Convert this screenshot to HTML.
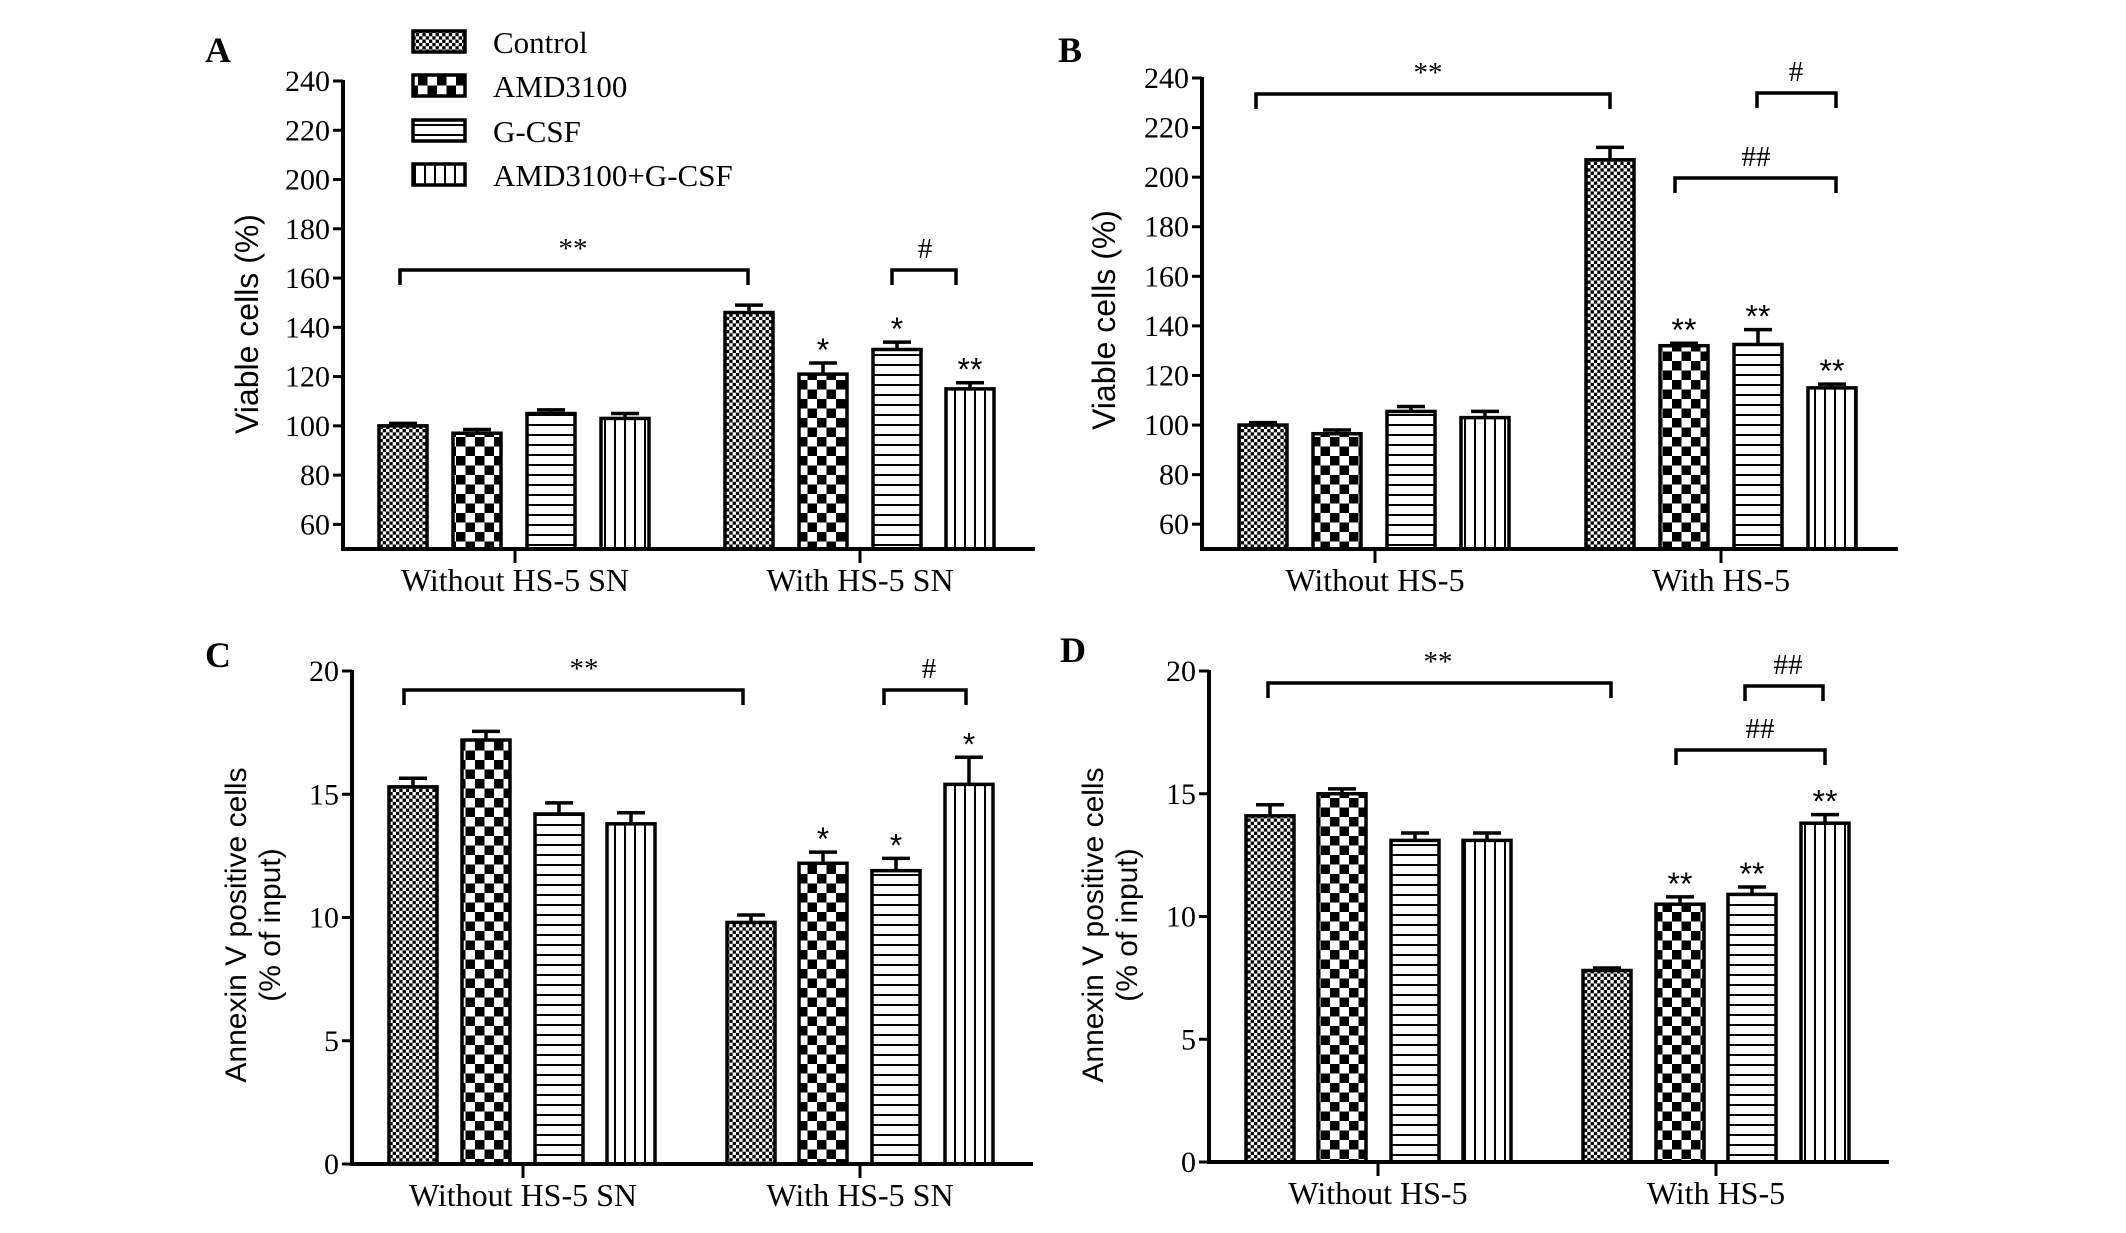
<!DOCTYPE html>
<html><head><meta charset="utf-8"><style>
html,body{margin:0;padding:0;background:#fff;}
svg{display:block;}
text{font-family:"Liberation Serif",serif;fill:#000;}
.sans{font-family:"Liberation Sans",sans-serif;}
</style></head><body>
<svg id="fig" width="2126" height="1233" viewBox="0 0 2126 1233" xmlns="http://www.w3.org/2000/svg">
<defs>
<pattern id="pCtrl" width="6.6" height="6.6" patternUnits="userSpaceOnUse"><rect width="6.6" height="6.6" fill="#fff"/><rect width="3.3" height="3.3" fill="#000"/><rect x="3.3" y="3.3" width="3.3" height="3.3" fill="#000"/></pattern>
<pattern id="pAmd" width="19" height="19" patternUnits="userSpaceOnUse"><rect width="19" height="19" fill="#fff"/><rect width="9.5" height="9.5" fill="#000"/><rect x="9.5" y="9.5" width="9.5" height="9.5" fill="#000"/></pattern>
<pattern id="pG" width="10" height="10" patternUnits="userSpaceOnUse"><rect width="10" height="10" fill="#fff"/><rect y="4" width="10" height="2" fill="#000"/></pattern>
<pattern id="pAG" width="10" height="10" patternUnits="userSpaceOnUse"><rect width="10" height="10" fill="#fff"/><rect x="4" width="2" height="10" fill="#000"/></pattern>
</defs>
<g id="legend">
<g><rect x="413" y="31" width="52" height="21" fill="url(#pCtrl)" stroke="#000" stroke-width="3.5"/><text x="493" y="53" font-size="31">Control</text></g>
<g><rect x="413" y="75" width="52" height="21" fill="url(#pAmd)" stroke="#000" stroke-width="3.5"/><text x="493" y="97" font-size="31">AMD3100</text></g>
<g><rect x="413" y="120" width="52" height="21" fill="url(#pG)" stroke="#000" stroke-width="3.5"/><text x="493" y="142" font-size="31">G-CSF</text></g>
<g><rect x="413" y="164" width="52" height="21" fill="url(#pAG)" stroke="#000" stroke-width="3.5"/><text x="493" y="186" font-size="31">AMD3100+G-CSF</text></g>
</g>
</svg>
<script>
// Panel A data
const aValues = [100, 97, 105, 103, 146, 121, 131, 115];
const aErrors = [1, 1.5, 1.5, 2, 3, 4.5, 3, 2.5];
const aStars = ["", "", "", "", "", "*", "*", "**"];
const aTicks = [60, 80, 100, 120, 140, 160, 180, 200, 220, 240];
const aGroups = ["Without HS-5 SN", "With HS-5 SN"];
// Panel B data
const bValues = [100, 96.5, 105.5, 103, 207, 132, 132.5, 115];
const bErrors = [1, 1.5, 2, 2.5, 5, 1, 6, 1.5];
const bStars = ["", "", "", "", "", "**", "**", "**"];
const bTicks = [60, 80, 100, 120, 140, 160, 180, 200, 220, 240];
const bGroups = ["Without HS-5", "With HS-5"];
// Panel C data
const cValues = [15.3, 17.2, 14.2, 13.8, 9.8, 12.2, 11.9, 15.4];
const cErrors = [0.35, 0.35, 0.45, 0.45, 0.3, 0.45, 0.5, 1.1];
const cStars = ["", "", "", "", "", "*", "*", "*"];
const cTicks = [0, 5, 10, 15, 20];
const cGroups = ["Without HS-5 SN", "With HS-5 SN"];
// Panel D data
const dValues = [14.1, 15.0, 13.1, 13.1, 7.8, 10.5, 10.9, 13.8];
const dErrors = [0.45, 0.2, 0.3, 0.3, 0.1, 0.3, 0.3, 0.35];
const dStars = ["", "", "", "", "", "**", "**", "**"];
const dTicks = [0, 5, 10, 15, 20];
const dGroups = ["Without HS-5", "With HS-5"];

const NS = "http://www.w3.org/2000/svg";
const svg = document.getElementById("fig");
const fills = ["url(#pCtrl)", "url(#pAmd)", "url(#pG)", "url(#pAG)"];
function mk(tag, attrs, parent) {
  const e = document.createElementNS(NS, tag);
  for (const k in attrs) e.setAttribute(k, attrs[k]);
  parent.appendChild(e);
  return e;
}
function panel(P, values, errors, stars, ticks, groups, brackets) {
  const g = mk("g", {}, svg);
  
  
  const y = v => P.y0 + (v - P.vmin) / (P.vmax - P.vmin) * (P.y1 - P.y0);
  const lbl = mk("text", {x: P.lx, y: P.ly, "font-size": 36, "font-weight": "bold"}, g);
  lbl.textContent = P.id;
  
  
  values.forEach((v, i) => {
    const cx = P.centers[i];
    const top = y(v), et = y(v + errors[i]);
    const bg = mk("g", {}, g);
    
    
    mk("line", {x1: cx, x2: cx, y1: top, y2: et, stroke: "#000", "stroke-width": 3.5}, bg);
    mk("line", {x1: cx - 14, x2: cx + 14, y1: et, y2: et, stroke: "#000", "stroke-width": 3.5}, bg);
    mk("rect", {x: cx - 24, y: top, width: 48, height: P.y0 - top, fill: fills[i % 4], stroke: "#000", "stroke-width": 3.5}, bg);
    if (stars[i]) {
      const s = mk("text", {x: cx, y: et - 2, "font-size": 32, "text-anchor": "middle", class: "sans"}, g);
      s.textContent = stars[i];
      
      
    }
  });
  const ax = mk("g", {}, g);
  
  
  mk("line", {x1: P.ax, x2: P.ax, y1: y(P.vmax) - 1, y2: P.y0 + 2, stroke: "#000", "stroke-width": 4}, ax);
  mk("line", {x1: P.ax - 2, x2: P.axEnd, y1: P.y0, y2: P.y0, stroke: "#000", "stroke-width": 4}, ax);
  ticks.forEach(t => {
    mk("line", {x1: P.ax - 10, x2: P.ax, y1: y(t), y2: y(t), stroke: "#000", "stroke-width": 3}, ax);
    const tl = mk("text", {x: P.ax - 13, y: y(t) + 10, "font-size": 30, "text-anchor": "end"}, ax);
    tl.textContent = t;
    
    
  });
  groups.forEach((gname, k) => {
    const gx = P.gticks[k];
    mk("line", {x1: gx, x2: gx, y1: P.y0, y2: P.y0 + 14, stroke: "#000", "stroke-width": 3}, ax);
    const xl = mk("text", {x: gx, y: P.y0 + 42, "font-size": 32, "text-anchor": "middle"}, ax);
    xl.textContent = gname;
    
    
  });
  const yt = mk("text", {x: 0, y: 0, "font-size": P.tfs, "text-anchor": "middle", class: "sans", transform: `translate(${P.tx},${P.ty}) rotate(-90)`}, g);
  
  
  if (P.title2) {
    const t1 = mk("tspan", {x: 0, dy: 0}, yt); t1.textContent = P.title;
    const t2 = mk("tspan", {x: 0, dy: 34}, yt); t2.textContent = P.title2;
  } else yt.textContent = P.title;
  brackets.forEach(b => {
    const bb = mk("g", {}, g);
    
    
    mk("path", {d: `M${b[0]},${b[2] + 15} V${b[2]} H${b[1]} V${b[2] + 15}`, fill: "none", stroke: "#000", "stroke-width": 3.5}, bb);
    const t = mk("text", {x: b[4], y: b[2] - 12, "font-size": 29, "text-anchor": "middle"}, bb);
    t.textContent = b[3];
  });
}
panel({id: "A", lx: 205, ly: 62, ax: 343, axEnd: 1035, y0: 549, y1: 81, vmin: 50, vmax: 240,
  centers: [403, 477, 551, 625, 749, 823, 897, 970], gticks: [515, 860],
  tx: 258, ty: 324, tfs: 32, title: "Viable cells (%)"},
  aValues, aErrors, aStars, aTicks, aGroups,
  [[400, 748, 270, "**", 573], [892, 956, 270, "#", 925]]);
panel({id: "B", lx: 1058, ly: 62, ax: 1202, axEnd: 1898, y0: 549, y1: 78, vmin: 50, vmax: 240,
  centers: [1263, 1337, 1411, 1485, 1610, 1684, 1758, 1832], gticks: [1375, 1721],
  tx: 1115, ty: 320, tfs: 32, title: "Viable cells (%)"},
  bValues, bErrors, bStars, bTicks, bGroups,
  [[1256, 1610, 94, "**", 1428], [1757, 1836, 93, "#", 1796], [1675, 1836, 178, "##", 1756]]);
panel({id: "C", lx: 205, ly: 667, ax: 352, axEnd: 1033, y0: 1164, y1: 671, vmin: 0, vmax: 20,
  centers: [413, 486, 559, 631, 751, 823, 896, 969], gticks: [523, 860],
  tx: 246, ty: 925, tfs: 30, title: "Annexin V positive cells", title2: "(% of input)"},
  cValues, cErrors, cStars, cTicks, cGroups,
  [[404, 743, 690, "**", 584], [884, 966, 690, "#", 929]]);
panel({id: "D", lx: 1060, ly: 662, ax: 1209, axEnd: 1889, y0: 1162, y1: 671, vmin: 0, vmax: 20,
  centers: [1270, 1342, 1415, 1487, 1607, 1680, 1752, 1825], gticks: [1378, 1716],
  tx: 1103, ty: 925, tfs: 30, title: "Annexin V positive cells", title2: "(% of input)"},
  dValues, dErrors, dStars, dTicks, dGroups,
  [[1268, 1611, 683, "**", 1438], [1745, 1823, 686, "##", 1788], [1676, 1825, 750, "##", 1760]]);
</script>
</body></html>
